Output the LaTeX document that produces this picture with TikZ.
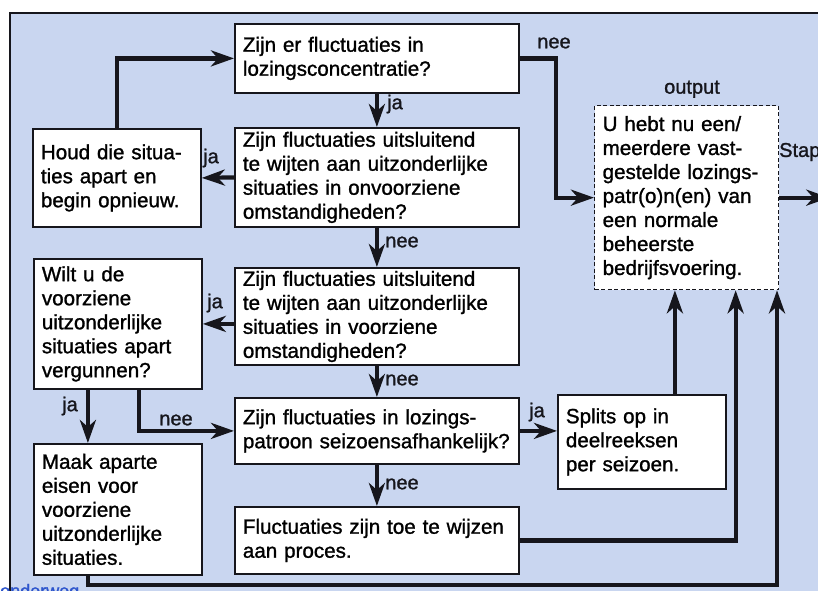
\documentclass[tikz,border=0pt]{standalone}
\usepackage{fontspec}
\newfontfamily\chartfont{Liberation Sans}[FakeBold=1.2]
\usetikzlibrary{arrows.meta}
\definecolor{panelblue}{RGB}{201,214,240}
\definecolor{inkblack}{RGB}{22,22,28}
\definecolor{linkblue}{RGB}{45,85,205}
\hyphenpenalty=10000
\tikzset{
  chartbox/.style={draw=inkblack,line width=1.8pt,fill=white,anchor=north west,
    align=left,inner xsep=8pt,inner ysep=3pt,
    font=\chartfont\fontsize{20.6}{24}\selectfont},
  flow/.style={draw=inkblack,line width=4.2pt,
    -{Stealth[length=23pt,width=16pt,inset=7pt]}},
  answer/.style={font=\chartfont\fontsize{20}{24}\selectfont,text=inkblack,inner sep=0pt}
}
\begin{document}
\begin{tikzpicture}[x=1pt,y=-1pt]
  \useasboundingbox (0,0) rectangle (818,590);
  \clip (0,0) rectangle (818,590);
  \fill[white] (0,0) rectangle (818,590);
  \draw[fill=panelblue,draw=inkblack,line width=1.6pt] (10,13) rectangle (840,620);
  % question column
  \node[chartbox,minimum width=284pt,minimum height=69pt,text width=268pt]
    (fluctq) at (234,23) {Zijn er fluctuaties in\\lozingsconcentratie?};
  \node[chartbox,minimum width=284pt,minimum height=99pt,text width=268pt]
    (unforeseenq) at (234,127) {Zijn fluctuaties uitsluitend\\te wijten aan uitzonderlijke\\situaties in onvoorziene\\omstandigheden?};
  \node[chartbox,minimum width=284pt,minimum height=97pt,text width=268pt]
    (foreseenq) at (234,267) {Zijn fluctuaties uitsluitend\\te wijten aan uitzonderlijke\\situaties in voorziene\\omstandigheden?};
  \node[chartbox,minimum width=284pt,minimum height=66pt,text width=268pt]
    (seasonq) at (234,397) {Zijn fluctuaties in lozings-\\patroon seizoensafhankelijk?};
  \node[chartbox,minimum width=284pt,minimum height=67pt,text width=268pt]
    (process) at (234,506) {Fluctuaties zijn toe te wijzen\\aan proces.};
  % left column
  \node[chartbox,minimum width=168pt,minimum height=98pt,text width=152pt]
    (restart) at (32,128) {Houd die situa-\\ties apart en\\begin opnieuw.};
  \node[chartbox,minimum width=168pt,minimum height=130pt,text width=152pt]
    (permitq) at (33,258) {Wilt u de\\voorziene\\uitzonderlijke\\situaties apart\\vergunnen?};
  \node[chartbox,minimum width=168pt,minimum height=131pt,text width=152pt]
    (separate) at (33,443) {Maak aparte\\eisen voor\\voorziene\\uitzonderlijke\\situaties.};
  % right column
  \node[chartbox,minimum width=168pt,minimum height=94pt,text width=152pt]
    (split) at (557,394) {Splits op in\\deelreeksen\\per seizoen.};
  \node[chartbox,dash pattern=on 4pt off 2.5pt,line width=1.3pt,minimum width=184pt,minimum height=184pt,text width=168pt]
    (output) at (594,105) {U hebt nu een/\\meerdere vast-\\gestelde lozings-\\patr(o)n(en) van\\een normale\\beheerste\\bedrijfsvoering.};
  \node[answer,anchor=south] (outputlbl) at (692,98) {output};
  \node[answer,anchor=west] (nextstep) at (779,152) {Stap};
  \node[font=\chartfont\fontsize{18}{20}\selectfont,text=linkblue,anchor=base west,inner sep=0pt]
    (caption) at (0,597) {onderweg};
  % connectors
  \draw[flow] (restart.north) |- (fluctq.west);
  \draw[flow] (fluctq.south) -- (unforeseenq.north);
  \draw[flow] (unforeseenq.west) -- (restart.east);
  \draw[flow] (unforeseenq.south) -- (foreseenq.north);
  \draw[flow] (permitq.east -| foreseenq.west) -- (permitq.east);
  \draw[flow] (foreseenq.south) -- (seasonq.north);
  \draw[flow] ([xshift=-30pt]permitq.south) -- ([xshift=-30pt]separate.north);
  \draw[flow] ([xshift=21pt]permitq.south) |- (seasonq.west);
  \draw[flow] (seasonq.east) -- (seasonq.east -| split.west);
  \draw[flow] (seasonq.south) -- (process.north);
  \draw[flow] (fluctq.east) -- ++(36,0) |- (output.west);
  \draw[flow] (output.east) -- ++(50,0);
  \draw[flow] ([xshift=33pt]split.north) -- ([xshift=33pt]split.north |- output.south);
  \draw[flow] (process.east) -| ([xshift=49pt]output.south);
  \coordinate (bottomrun) at (777,585);
  \draw[flow] ([xshift=-30pt]separate.south) |- (bottomrun) -- (bottomrun |- output.south);
  % answers
  \node[answer] (ja1) at (395,104) {ja};
  \node[answer] (ja2) at (211,158) {ja};
  \node[answer] (nee1) at (402,242) {nee};
  \node[answer] (ja3) at (215,303) {ja};
  \node[answer] (nee2) at (402,380) {nee};
  \node[answer] (ja4) at (70,406) {ja};
  \node[answer] (nee3) at (176,420) {nee};
  \node[answer] (ja5) at (537,412) {ja};
  \node[answer] (nee4) at (402,484) {nee};
  \node[answer] (nee5) at (554,43) {nee};
\end{tikzpicture}
\end{document}
